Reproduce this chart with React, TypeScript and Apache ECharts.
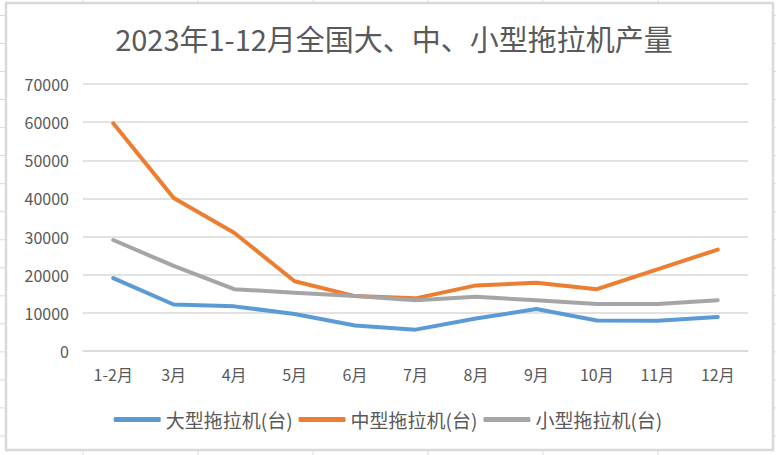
import React, { useEffect, useRef } from "react";
import * as echarts from "echarts";

const months = ["1-2月", "3月", "4月", "5月", "6月", "7月", "8月", "9月", "10月", "11月", "12月"];
const largeTractors = [19100, 12200, 11700, 9700, 6700, 5600, 8500, 11000, 8000, 7900, 8900];
const mediumTractors = [59700, 40100, 31000, 18300, 14400, 13800, 17200, 17900, 16200, 21400, 26600];
const smallTractors = [29100, 22300, 16200, 15300, 14400, 13300, 14200, 13300, 12300, 12300, 13300];
const seriesNames = ["大型拖拉机(台)", "中型拖拉机(台)", "小型拖拉机(台)"];
const seriesColors = ["#5B9BD5", "#ED7D31", "#A5A5A5"];
const titleText = "2023年1-12月全国大、中、小型拖拉机产量";

const FONT = '"Noto Sans CJK SC", "Noto Sans", sans-serif';
const GRID_GRAY = "#d9d9d9";
const TEXT_GRAY = "#595959";

// Spreadsheet cell lines peeking out around the chart frame
function sheetLines() {
  const items: any[] = [];
  for (let k = 0; k < 16; k++) {
    const y = 15.5 + k * 28.03;
    items.push({ type: "line", shape: { x1: 0, y1: y, x2: 5, y2: y }, style: { stroke: GRID_GRAY, lineWidth: 1 }, silent: true });
    items.push({ type: "line", shape: { x1: 774, y1: y, x2: 776, y2: y }, style: { stroke: GRID_GRAY, lineWidth: 1 }, silent: true });
  }
  for (let k = 0; k < 6; k++) {
    const x = 83 + k * 115;
    items.push({ type: "line", shape: { x1: x, y1: 0, x2: x, y2: 2 }, style: { stroke: GRID_GRAY, lineWidth: 1 }, silent: true });
    items.push({ type: "line", shape: { x1: x, y1: 451, x2: x, y2: 455 }, style: { stroke: GRID_GRAY, lineWidth: 1 }, silent: true });
  }
  // chart frame
  items.push({
    type: "rect",
    shape: { x: 6, y: 3, width: 767, height: 447 },
    style: { fill: "none", stroke: GRID_GRAY, lineWidth: 2.5 },
    silent: true,
  });
  return items;
}

export default function App() {
  const ref = useRef<HTMLDivElement>(null);

  useEffect(() => {
    document.body.style.margin = "0";
    const chart = echarts.init(ref.current!, undefined, { renderer: "svg" });
    const data = [largeTractors, mediumTractors, smallTractors];
    chart.setOption({
      animation: false,
      backgroundColor: "#ffffff",
      textStyle: { fontFamily: FONT },
      title: {
        text: titleText,
        left: 389,
        top: 18,
        textAlign: "center",
        textStyle: { fontFamily: FONT, fontSize: 29, fontWeight: "normal", color: TEXT_GRAY },
      },
      graphic: sheetLines(),
      legend: {
        data: seriesNames,
        left: "center",
        top: 405,
        itemWidth: 47,
        itemHeight: 5,
        itemGap: 6,
        icon: "roundRect",
        textStyle: { fontFamily: FONT, fontSize: 19, color: TEXT_GRAY, padding: [0, 0, 0, 0] },
      },
      grid: { left: 83, right: 28, top: 84, bottom: 104 },
      xAxis: {
        type: "category",
        data: months,
        boundaryGap: true,
        axisLine: { show: true, lineStyle: { color: GRID_GRAY, width: 1.5 } },
        axisTick: { show: false },
        axisLabel: { fontFamily: FONT, fontSize: 16, color: TEXT_GRAY, margin: 15 },
      },
      yAxis: {
        type: "value",
        min: 0,
        max: 70000,
        interval: 10000,
        axisLine: { show: false },
        axisTick: { show: false },
        axisLabel: {
          fontFamily: FONT,
          fontSize: 16,
          color: TEXT_GRAY,
          margin: 14,
          formatter: (v: number) => String(v),
        },
        splitLine: { lineStyle: { color: GRID_GRAY, width: 1.5 } },
      },
      series: seriesNames.map((name, i) => ({
        name,
        type: "line",
        data: data[i],
        symbol: "none",
        smooth: false,
        color: seriesColors[i],
        lineStyle: { width: 4, color: seriesColors[i], cap: "round", join: "round" },
        itemStyle: { color: seriesColors[i] },
      })),
    });
    return () => chart.dispose();
  }, []);

  return <div ref={ref} style={{ width: 776, height: 455 }} />;
}
